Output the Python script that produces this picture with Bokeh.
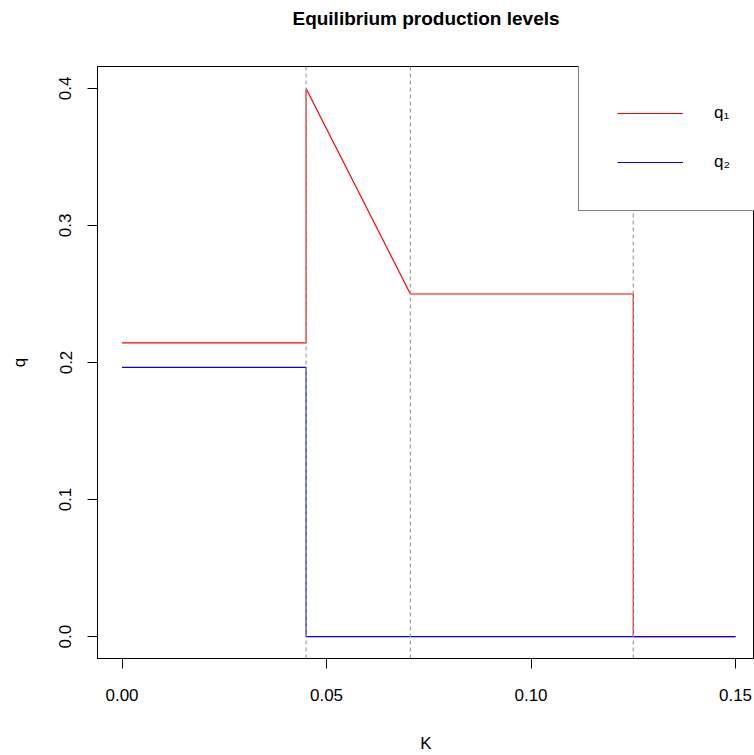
from bokeh.plotting import figure
from bokeh.models import Span, Legend, LegendItem, FixedTicker, Range1d, Title
from bokeh.embed import file_html
from bokeh.resources import INLINE

# Data
k_q1 = [0.0, 0.045, 0.045, 0.0705, 0.125, 0.125, 0.15]
q1 = [0.2143, 0.2143, 0.4, 0.25, 0.25, 0.0, 0.0]
k_q2 = [0.0, 0.045, 0.045, 0.15]
q2 = [0.1964, 0.1964, 0.0, 0.0]
thresholds = [0.045, 0.0705, 0.125]
x_ticks = [0.0, 0.05, 0.10, 0.15]
x_tick_labels = ["0.00", "0.05", "0.10", "0.15"]
y_ticks = [0.0, 0.1, 0.2, 0.3, 0.4]
y_tick_labels = ["0.0", "0.1", "0.2", "0.3", "0.4"]

FONT = "Liberation Sans"

p = figure(width=754, height=755, title=None,
           x_range=Range1d(-0.006, 0.15464), y_range=Range1d(-0.016, 0.416),
           output_backend="svg", toolbar_location=None,
           min_border_left=97, min_border_right=0, min_border_top=66, min_border_bottom=96)

# spacer between frame and title (keeps the title high without moving the frame)
p.add_layout(Title(text=" ", text_font_size="1px", standoff=35), "above")
p.add_layout(Title(text="Equilibrium production levels", align="center",
                   text_font=FONT, text_font_size="19px", text_font_style="bold",
                   text_color="black", standoff=0), "above")

p.background_fill_color = "white"
p.border_fill_color = "white"
p.outline_line_color = "black"
p.outline_line_width = 1
p.xgrid.visible = False
p.ygrid.visible = False

for ax in (p.xaxis, p.yaxis):
    ax.axis_line_color = "black"
    ax.major_tick_line_color = "black"
    ax.major_tick_out = 10
    ax.major_tick_in = 0
    ax.minor_tick_line_color = None
    ax.major_label_text_font = FONT
    ax.major_label_text_font_size = "17px"
    ax.major_label_text_color = "black"
    ax.axis_label_text_font = FONT
    ax.axis_label_text_font_size = "17px"
    ax.axis_label_text_font_style = "normal"
    ax.axis_label_text_color = "black"

p.xaxis.ticker = FixedTicker(ticks=x_ticks)
p.xaxis.major_label_overrides = dict(zip(x_ticks, x_tick_labels))
p.yaxis.ticker = FixedTicker(ticks=y_ticks)
p.yaxis.major_label_overrides = dict(zip(y_ticks, y_tick_labels))
p.yaxis.major_label_orientation = "vertical"

p.xaxis.axis_label = "K"
p.yaxis.axis_label = "q"
p.xaxis.major_label_standoff = 20
p.xaxis.axis_label_standoff = 30
p.yaxis.major_label_standoff = 16
p.yaxis.axis_label_standoff = 28

r1 = p.line(k_q1, q1, line_color="#FF0000", line_width=1.2)
r2 = p.line(k_q2, q2, line_color="#0000FF", line_width=1.2)

for k in thresholds:
    p.add_layout(Span(location=k, dimension="height", line_color="#a0a0a0",
                      line_dash="4 3", line_width=1.2))

legend = Legend(items=[LegendItem(label="q₁", renderers=[r1]),
                       LegendItem(label="q₂", renderers=[r2])],
                location=(481, 447), margin=0, padding=38, spacing=29,
                glyph_width=66, glyph_height=20, label_height=20,
                label_standoff=31,
                label_text_font=FONT, label_text_font_size="17px",
                label_text_color="black",
                item_background_fill_alpha=0,
                border_line_color="black", border_line_width=1,
                background_fill_color="white", background_fill_alpha=1.0)
p.add_layout(legend)

open("out.html", "w").write(file_html(p, INLINE))
